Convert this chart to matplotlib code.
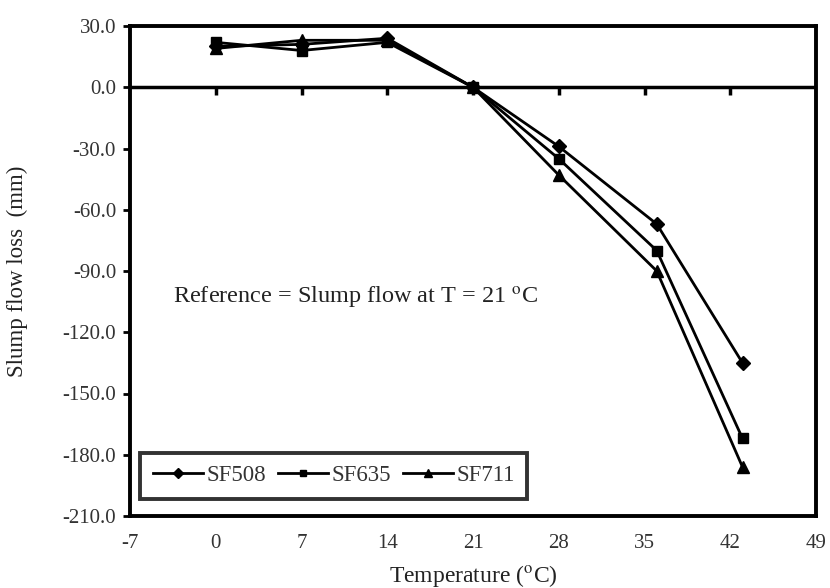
import matplotlib
matplotlib.use("Agg")
import matplotlib.pyplot as plt

temps = [0, 7, 14, 21, 28, 36, 43]
sf508 = [20.0, 21.0, 24.0, 0.0, -29.0, -67.0, -135.0]
sf635 = [22.0, 18.0, 22.0, 0.0, -35.0, -80.0, -172.0]
sf711 = [19.0, 23.0, 23.0, 0.0, -43.0, -90.0, -186.0]
series_names = ["SF508", "SF635", "SF711"]
x_ticks = [-7, 0, 7, 14, 21, 28, 35, 42, 49]
y_ticks = [30, 0, -30, -60, -90, -120, -150, -180, -210]

plt.rcParams['font.family'] = ['Liberation Serif', 'DejaVu Serif']
plt.rcParams['mathtext.fontset'] = 'stix'

fig = plt.figure(figsize=(8.3, 5.88), dpi=100)
ax = fig.add_axes([130/830, 1 - 516/588, (816-130)/830, (516-26)/588])

ax.plot(temps, sf508, color='black', lw=2, marker='D', ms=7, label=series_names[0])
ax.plot(temps, sf635, color='black', lw=2, marker='s', ms=7, label=series_names[1])
ax.plot(temps, sf711, color='black', lw=2, marker='^', ms=8, label=series_names[2])

ax.set_xlim(-7, 49)
ax.set_ylim(-210, 30)
ax.axhline(0, color='black', lw=2.5, zorder=1)

for s in ax.spines.values():
    s.set_linewidth(2.8)
    s.set_color('black')

ax.set_xticks(x_ticks)
ax.set_xticklabels([str(v) for v in x_ticks])
ax.set_yticks(y_ticks)
ax.set_yticklabels([f"{v:.1f}" for v in y_ticks])
ax.tick_params(axis='x', length=0, pad=13, labelsize=15)
ax.tick_params(axis='y', length=5, width=2, direction='out', pad=5, labelsize=15)
for t in ax.get_yticklabels() + ax.get_xticklabels():
    t.set_color('#333333')

# tick marks on the zero line
loc = (0 - (-210)) / (30 - (-210))
sec = ax.secondary_xaxis(loc)
sec.set_xticks(x_ticks[1:-1])
sec.tick_params(axis='x', direction='out', length=6, width=2.5, labelbottom=False, labeltop=False)
sec.xaxis.set_ticks_position('bottom')
sec.spines['bottom'].set_visible(False)
sec.spines['top'].set_visible(False)
sec.set_xticklabels([])

ax.text(-3.5, -103, r"Reference = Slump flow at T = 21 $^{\mathrm{o}}$C", fontsize=17.5,
        va='center', ha='left', color='#222222')

ax.set_xlabel(r"Temperature ($^{\mathrm{o}}$C)", fontsize=17, color='#222222')
ax.set_ylabel("Slump flow loss  (mm)", fontsize=16.5, color='#222222')
ax.xaxis.set_label_coords(0.5, -0.096)
ax.yaxis.set_label_coords(-0.148, 0.5)

leg = ax.legend(loc='lower left', ncol=3, frameon=True, fancybox=False,
                fontsize=16.5, handlelength=2.2, handletextpad=0.15, columnspacing=0.5,
                markerscale=0.7, borderpad=0.55, borderaxespad=0.0,
                bbox_to_anchor=(0.015, 0.035))
leg.get_frame().set_edgecolor('black')
leg.get_frame().set_linewidth(2.8)
for t in leg.get_texts():
    t.set_color('#333333')

fig.savefig("out.png", dpi=100)
